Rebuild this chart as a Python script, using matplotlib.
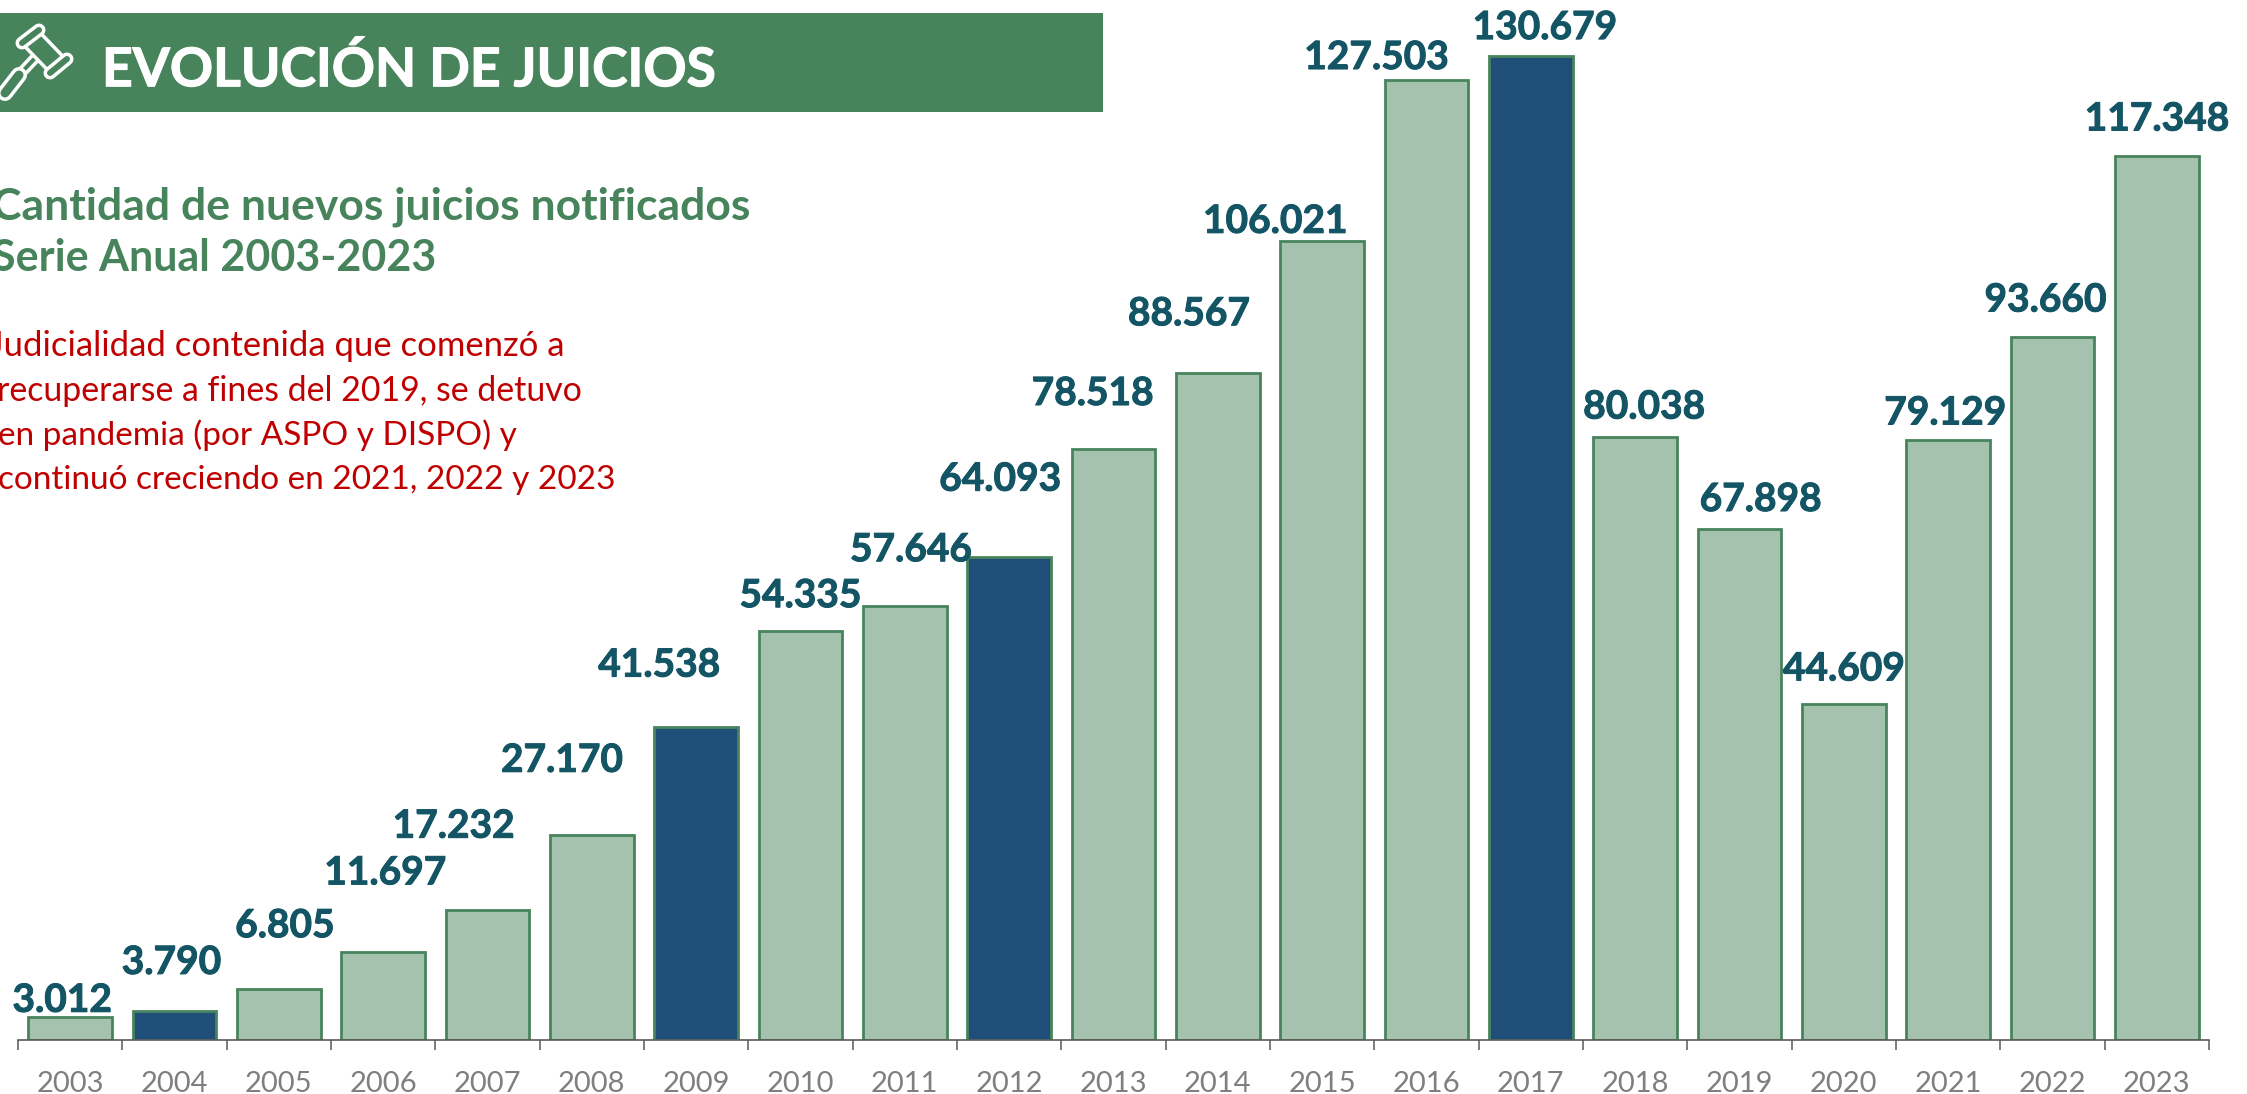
import matplotlib as mpl

mpl.use('Agg')

import matplotlib.pyplot as plt
import matplotlib.patheffects as pe

years = [2003, 2004, 2005, 2006, 2007, 2008, 2009, 2010, 2011, 2012, 2013,
         2014, 2015, 2016, 2017, 2018, 2019, 2020, 2021, 2022, 2023]
juicios = [3012, 3790, 6805, 11697, 17232, 27170, 41538, 54335, 57646, 64093, 78518,
           88567, 106021, 127503, 130679, 80038, 67898, 44609, 79129, 93660, 117348]
# bar heights as drawn in the picture (2021 and 2022 differ a bit from their labels)
alturas = [3012, 3790, 6805, 11697, 17232, 27170, 41538, 54335, 57646, 64093, 78518,
           88567, 106021, 127503, 130679, 80038, 67898, 44609, 79650, 93320, 117348]
highlight_years = [2004, 2009, 2012, 2017]

# label offsets from bar top, in pixels
label_dx = [-8, -3, 6, 2, -34, -30, -37, 0, 6, -9, -21, -29, -47, -50, 14, 9, 21, 0, -3, -7, 0]
label_dy = [17, 49, 63, 79, 84, 75, 62, 35, 56, 78, 55, 59, 20, 22, 28, 30, 29, 35, 27, 37, 37]

title = 'EVOLUCIÓN DE JUICIOS'
subtitle = ['Cantidad de nuevos juicios notificados', 'Serie Anual 2003-2023']
note = ['Judicialidad contenida que comenzó a', 'recuperarse a fines del 2019, se detuvo',
        'en pandemia (por ASPO y DISPO) y', 'continuó creciendo en 2021, 2022 y 2023']
# the text starts just past the left edge, each line sized to its width in the picture
note_left = [-11, -3, -2, -2]
note_size = [24.9, 24.4, 24, 24]

W, H = 2247, 1094
GREEN = '#47845C'
LIGHT = '#A4C2AE'
DARK = '#1F4E79'
LABEL = '#145565'
RED = '#C00000'

plt.rcParams['font.family'] = ['Lato', 'DejaVu Sans']

fig = plt.figure(figsize=(W / 100, H / 100), dpi=100)

# chart axes: baseline at y=1040px, 18px to 2209px wide
ax = fig.add_axes([18 / W, (H - 1040) / H, 2191 / W, 1040 / H])
ax.set_xlim(-0.5, 20.5)
ax.set_ylim(0, 138060)
ax.patch.set_alpha(0)

colors = [DARK if y in highlight_years else LIGHT for y in years]
ax.bar(range(len(years)), alturas, width=0.8, color=colors, edgecolor=GREEN, linewidth=2)

for i, v in enumerate(juicios):
    txt = f'{v:,}'.replace(',', '.')
    ax.annotate(txt, xy=(i, alturas[i]), xytext=(label_dx[i], label_dy[i]), textcoords='offset pixels',
                ha='center', va='center', fontsize=28, fontweight='bold', color=LABEL,
                annotation_clip=False,
                path_effects=[pe.withStroke(linewidth=0.7, foreground=LABEL)])

for s in ['top', 'left', 'right']:
    ax.spines[s].set_visible(False)
ax.spines['bottom'].set_color('#595959')
ax.spines['bottom'].set_linewidth(1.2)
ax.set_yticks([])
ax.set_xticks(range(len(years)))
ax.set_xticklabels(years)
ax.set_xticks([i - 0.5 for i in range(len(years) + 1)], minor=True)
ax.tick_params(axis='x', which='major', length=0, pad=22, labelsize=21, labelcolor='#7F7F7F')
ax.tick_params(axis='x', which='minor', length=7.5, width=1.1, color='#595959')

# overlay in pixel coordinates for banner and texts
ov = fig.add_axes([0, 0, 1, 1])
ov.set_xlim(0, W)
ov.set_ylim(H, 0)
ov.axis('off')
ov.patch.set_alpha(0)
ov.add_patch(plt.Rectangle((0, 13), 1103, 99, color=GREEN, lw=0))


def icon_line(x, y, width, cap='round'):
    ov.plot(x, y, color='white', lw=width * 0.72, solid_capstyle=cap)
    ov.plot(x, y, color=GREEN, lw=(width - 7) * 0.72, solid_capstyle=cap)


# gavel icon
icon_line([22, 38], [72, 55], 11, 'butt')
icon_line([5, 19], [93, 75], 16)
icon_line([30, 58], [37, 66], 24, 'butt')
icon_line([22, 39], [43, 30], 13)
icon_line([50, 67], [73, 59], 13)

ov.text(102, 70, title, fontsize=38.5, fontweight='bold', color='white', va='center', ha='left',
        path_effects=[pe.withStroke(linewidth=0.8, foreground='white')])

ov.text(-8, 207, subtitle[0], fontsize=32, fontweight='bold', color=GREEN, va='center', ha='left')
ov.text(-8, 258, subtitle[1], fontsize=31, fontweight='bold', color=GREEN, va='center', ha='left')

for k, line in enumerate(note):
    ov.text(note_left[k], 346 + k * 44.7, line, fontsize=note_size[k], color=RED, va='center', ha='left')

fig.savefig('out.png', dpi=100)
